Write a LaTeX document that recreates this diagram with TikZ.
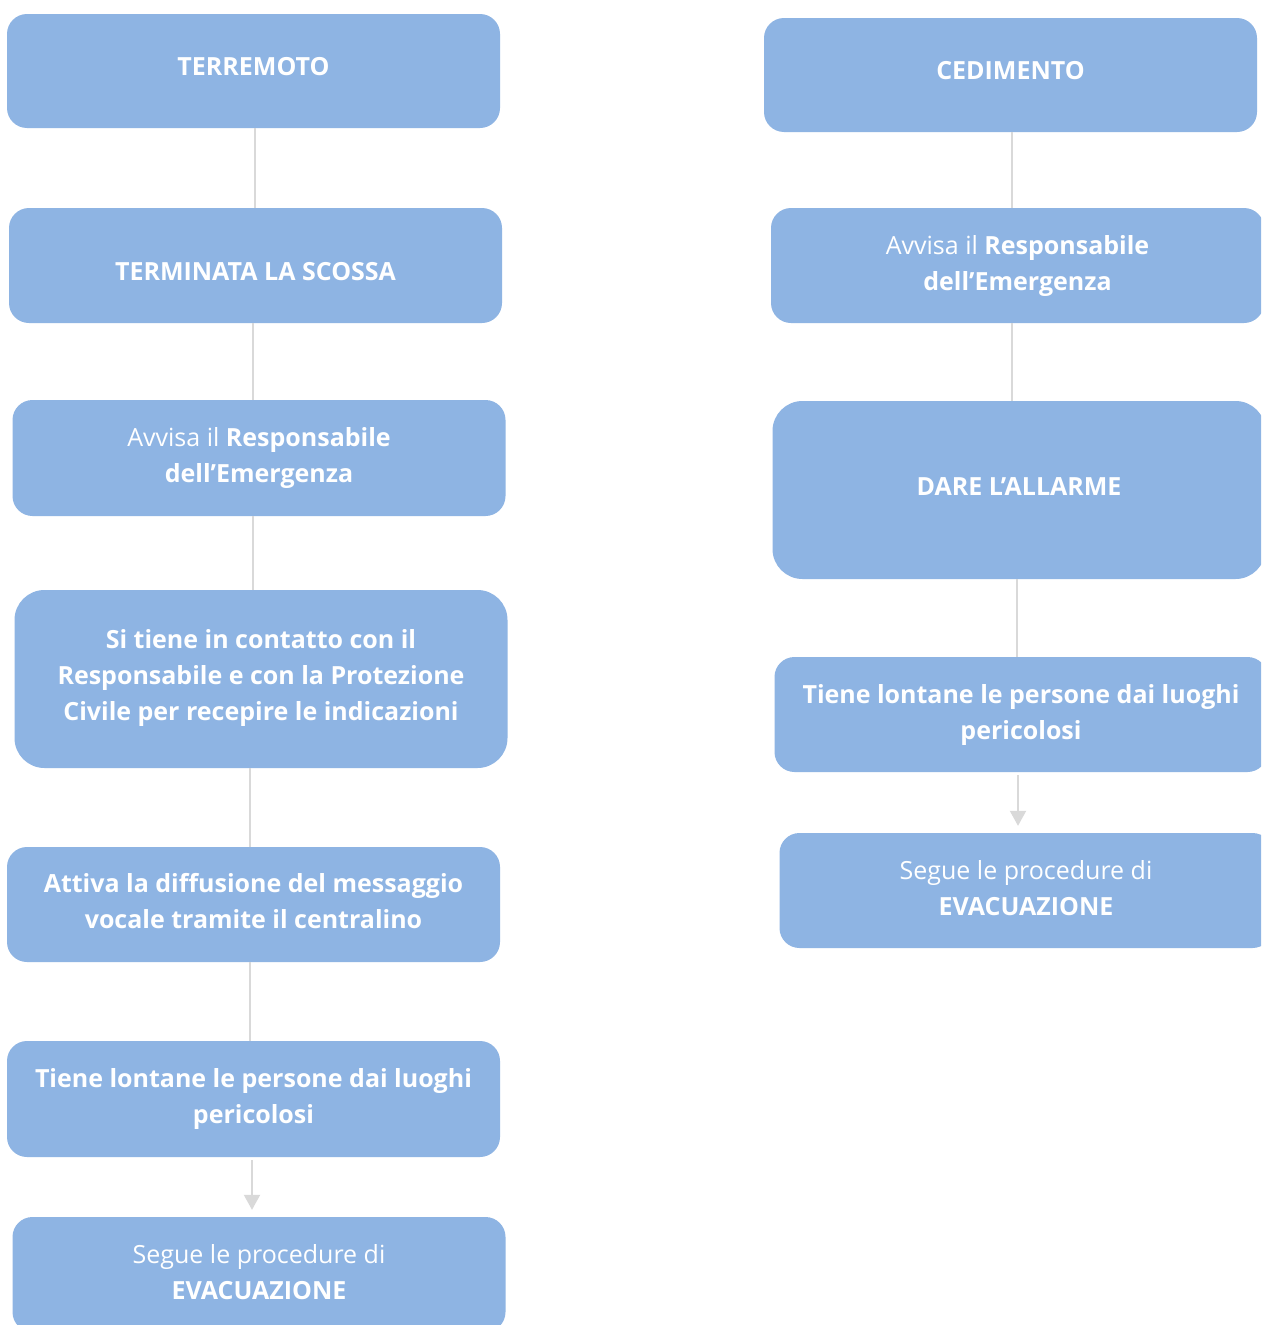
\documentclass[tikz,border=0pt]{standalone}
\usepackage{fontspec}
\setmainfont{Open Sans}
\usetikzlibrary{arrows.meta}
\definecolor{boxblue}{RGB}{142,180,227}
\definecolor{conngray}{RGB}{217,217,217}
\newcommand{\boxtxt}[2]{\raisebox{#1}[\height][\depth]{\begin{tabular}{@{}c@{}}#2\end{tabular}}}
\tikzset{
  flowbox/.style={rectangle, rounded corners=20pt, fill=boxblue, draw=none,
    minimum width=493pt, minimum height=115pt, text=white, align=center,
    inner sep=0pt, font=\fontsize{25}{36}\selectfont},
  tallbox/.style={flowbox, minimum height=178pt, rounded corners=30pt},
  conn/.style={draw=conngray, line width=2pt},
  arrowconn/.style={conn, -{Triangle[width=16pt,length=15pt]}, shorten <=3pt, shorten >=7pt}
}
\begin{document}
\begin{tikzpicture}[x=1pt,y=-1pt]
\clip (0,0) rectangle (1261,1325);
\fill[white] (0,0) rectangle (1261,1325);
% left column
\node[flowbox, minimum height=114pt] (L1) at (253.5,71) {\boxtxt{3pt}{\textbf{TERREMOTO}}};
\node[flowbox] (L2) at (255.5,265.5) {\boxtxt{-7.5pt}{\textbf{TERMINATA LA SCOSSA}}};
\node[flowbox, minimum height=116pt] (L3) at (259,458) {\boxtxt{1pt}{Avvisa il \textbf{Responsabile}\\\textbf{dell’Emergenza}}};
\node[tallbox] (L4) at (261,679) {\boxtxt{2pt}{\textbf{Si tiene in contatto con il}\\\textbf{Responsabile e con la Protezione}\\\textbf{Civile per recepire le indicazioni}}};
\node[flowbox] (L5) at (253.5,904.5) {\boxtxt{1pt}{\textbf{Attiva la diffusione del messaggio}\\\textbf{vocale tramite il centralino}}};
\node[flowbox, minimum height=116pt] (L6) at (253.5,1099) {\boxtxt{1pt}{\textbf{Tiene lontane le persone dai luoghi}\\\textbf{pericolosi}}};
\node[flowbox] (L7) at (259,1274.5) {\boxtxt{0pt}{Segue le procedure di\\\textbf{EVACUAZIONE}}};
% right column
\node[flowbox, minimum height=114pt] (R1) at (1010.5,75) {\boxtxt{3pt}{\textbf{CEDIMENTO}}};
\node[flowbox] (R2) at (1017.5,265.5) {\boxtxt{0pt}{Avvisa il \textbf{Responsabile}\\\textbf{dell’Emergenza}}};
\node[tallbox] (R3) at (1019,490) {\boxtxt{2pt}{\textbf{DARE L’ALLARME}}};
\node[flowbox] (R4) at (1021,714.5) {\boxtxt{0pt}{\textbf{Tiene lontane le persone dai luoghi}\\\textbf{pericolosi}}};
\node[flowbox] (R5) at (1026,890.5) {\boxtxt{0pt}{Segue le procedure di\\\textbf{EVACUAZIONE}}};
% connectors
\coordinate (c1) at (255,0);
\draw[conn] (L1.south -| c1) -- (L2.north -| c1);
\coordinate (c2) at (253,0);
\draw[conn] (L2.south -| c2) -- (L3.north -| c2);
\draw[conn] (L3.south -| c2) -- (L4.north -| c2);
\coordinate (c3) at (250,0);
\draw[conn] (L4.south -| c3) -- (L5.north -| c3);
\draw[conn] (L5.south -| c3) -- (L6.north -| c3);
\coordinate (c4) at (252,0);
\draw[arrowconn] (L6.south -| c4) -- (L7.north -| c4);
\coordinate (d1) at (1012,0);
\draw[conn] (R1.south -| d1) -- (R2.north -| d1);
\draw[conn] (R2.south -| d1) -- (R3.north -| d1);
\coordinate (d2) at (1017,0);
\draw[conn] (R3.south -| d2) -- (R4.north -| d2);
\coordinate (d3) at (1018,0);
\draw[arrowconn] (R4.south -| d3) -- (R5.north -| d3);
\end{tikzpicture}
\end{document}
